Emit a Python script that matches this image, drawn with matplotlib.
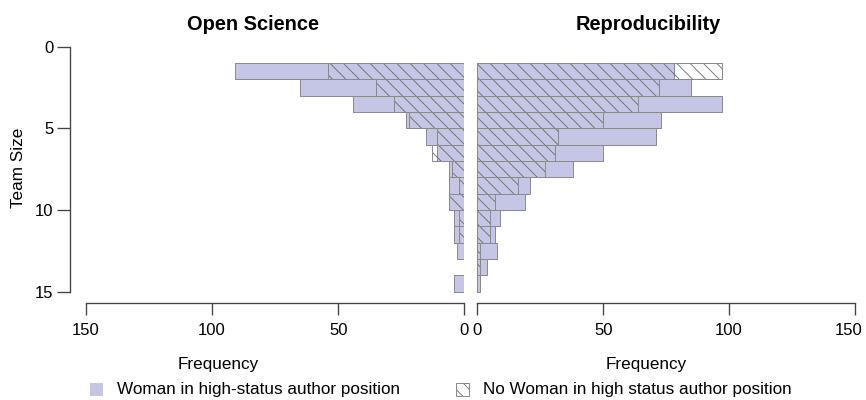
import numpy as np
import matplotlib
matplotlib.use("Agg")
import matplotlib.pyplot as plt
import matplotlib.transforms as mtransforms
from matplotlib.patches import Rectangle

# team size bins: [1,2), [2,3), ... [14,15)
bin_left = np.arange(1, 15)
open_woman = [91, 65, 44, 23, 15, 11, 6, 6, 6, 4, 4, 3, 0, 4]
open_nowoman = [54, 35, 28, 22, 11, 13, 5, 2, 6, 2, 2, 0, 0, 0]
repro_woman = [78, 85, 97, 73, 71, 50, 38, 21, 19, 9, 7, 8, 4, 1]
repro_nowoman = [97, 72, 64, 50, 32, 31, 27, 16, 7, 5, 5, 1, 1, 0]
x_ticks = [0, 50, 100, 150]
y_ticks = [0, 5, 10, 15]

plt.rcParams['font.family'] = ['Liberation Sans', 'DejaVu Sans']
plt.rcParams['hatch.linewidth'] = 0.5

W, H, DPI = 866, 400, 120
fill_col = '#c5c5e6'
edge_col = '#8a8a8a'
hatch_col = '#6a6a6a'
axis_col = '#444444'

fig = plt.figure(figsize=(W / DPI, H / DPI), dpi=DPI)


def px_axes(x0, x1, ytop, ybot):
    return fig.add_axes([x0 / W, 1 - ybot / H, (x1 - x0) / W, (ybot - ytop) / H])


def draw_panel(ax, woman, nowoman):
    yc = bin_left + 0.5
    ax.barh(yc, woman, height=1, color=fill_col, edgecolor=edge_col, linewidth=0.6)
    ax.barh(yc, nowoman, height=1, facecolor='none', edgecolor=hatch_col,
            linewidth=0, hatch='\\\\\\')
    ax.barh(yc, nowoman, height=1, facecolor='none', edgecolor=edge_col, linewidth=0.6)
    ax.set_ylim(15.7, 0)
    for s in ['top', 'right', 'left']:
        ax.spines[s].set_visible(False)
    ax.spines['bottom'].set_bounds(0, 150)
    ax.spines['bottom'].set_color(axis_col)
    ax.spines['bottom'].set_linewidth(0.8)
    ax.set_xticks(x_ticks)
    ax.tick_params(axis='x', direction='out', length=7.2, width=0.8, color=axis_col,
                   pad=4.8, labelsize=10)
    ax.set_facecolor('none')


ax1 = px_axes(86, 464.3, 46.7, 303)
draw_panel(ax1, open_woman, open_nowoman)
ax1.set_xlim(150, 0)
ax1.spines['left'].set_visible(True)
ax1.spines['left'].set_position(('outward', 9.6))
ax1.spines['left'].set_bounds(0, 15)
ax1.spines['left'].set_color(axis_col)
ax1.spines['left'].set_linewidth(0.8)
ax1.set_yticks(y_ticks)
ax1.tick_params(axis='y', direction='out', length=7.8, width=0.8, color=axis_col,
                pad=2, labelsize=10)

ax2 = px_axes(477.3, 855, 46.7, 303)
draw_panel(ax2, repro_woman, repro_nowoman)
ax2.set_xlim(0, 150)
ax2.set_yticks([])

# keep the last right-hand tick label inside the canvas
fig.canvas.draw()
last = ax2.get_xticklabels()[-1]
last.set_transform(last.get_transform() +
                   mtransforms.ScaledTranslation(-6 / DPI, 0, fig.dpi_scale_trans))

# titles and labels
fig.text(252.5 / W, 1 - 30 / H, 'Open Science', ha='center', va='baseline',
         fontsize=12, fontweight='bold')
fig.text(648.5 / W, 1 - 30 / H, 'Reproducibility', ha='center', va='baseline',
         fontsize=12, fontweight='bold')
fig.text(218 / W, 1 - 369.5 / H, 'Frequency', ha='center', va='baseline', fontsize=10.3)
fig.text(646 / W, 1 - 369.5 / H, 'Frequency', ha='center', va='baseline', fontsize=10.3)
fig.text(19 / W, 1 - 168 / H, 'Team Size', ha='center', va='center', rotation=90,
         fontsize=10.3)

# legend
sq = 13
fig.add_artist(Rectangle((90 / W, 1 - 396 / H), sq / W, sq / H, transform=fig.transFigure,
                         facecolor=fill_col, edgecolor='none'))
fig.add_artist(Rectangle((456 / W, 1 - 396 / H), sq / W, sq / H, transform=fig.transFigure,
                         facecolor='white', edgecolor=hatch_col, linewidth=0, hatch='\\\\\\'))
fig.add_artist(Rectangle((456 / W, 1 - 396 / H), sq / W, sq / H, transform=fig.transFigure,
                         facecolor='none', edgecolor=edge_col, linewidth=0.6))
fig.text(117 / W, 1 - 389.5 / H, 'Woman in high-status author position', ha='left',
         va='center', fontsize=10.3)
fig.text(483 / W, 1 - 389.5 / H, 'No Woman in high status author position', ha='left',
         va='center', fontsize=10.3)

fig.savefig('out.png', dpi=DPI)
